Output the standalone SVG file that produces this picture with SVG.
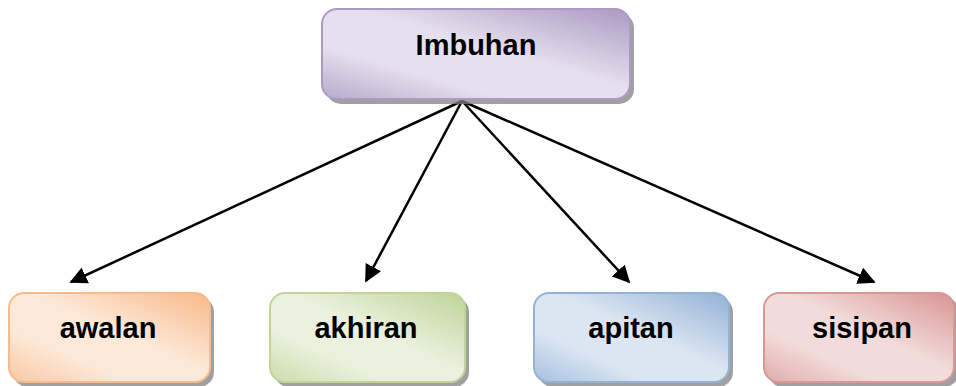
<svg xmlns="http://www.w3.org/2000/svg" width="956" height="386" viewBox="0 0 956 386">
<style>
.t{font-family:"Liberation Sans",Arial,sans-serif;font-weight:bold;font-size:29px;fill:#000;text-anchor:middle}
.sh{fill:#808080;opacity:0.75}
.c{stroke:#000;stroke-width:2.5;fill:none;marker-end:url(#ah)}
</style>
<defs>
<marker id="ah" viewBox="0 0 10 10" refX="9" refY="5" markerWidth="7" markerHeight="7" orient="auto" markerUnits="strokeWidth">
<path d="M0,0 L10,5 L0,10 z" fill="#000"/>
</marker>
<linearGradient id="gp" x1="1" y1="0" x2="0" y2="1">
<stop offset="0" stop-color="#ab99c3"/><stop offset="0.45" stop-color="#e6e0ee"/><stop offset="0.7" stop-color="#e6e0ee"/><stop offset="1" stop-color="#b8a9cc"/>
</linearGradient>
<linearGradient id="go" x1="1" y1="0" x2="0" y2="1">
<stop offset="0" stop-color="#f8b888"/><stop offset="0.45" stop-color="#fde9d9"/><stop offset="0.7" stop-color="#fde9d9"/><stop offset="1" stop-color="#f9c8a2"/>
</linearGradient>
<linearGradient id="gg" x1="1" y1="0" x2="0" y2="1">
<stop offset="0" stop-color="#bfd398"/><stop offset="0.45" stop-color="#ebf1de"/><stop offset="0.7" stop-color="#ebf1de"/><stop offset="1" stop-color="#cadcab"/>
</linearGradient>
<linearGradient id="gb" x1="1" y1="0" x2="0" y2="1">
<stop offset="0" stop-color="#93b1d6"/><stop offset="0.45" stop-color="#dce6f2"/><stop offset="0.7" stop-color="#dce6f2"/><stop offset="1" stop-color="#a6bfdf"/>
</linearGradient>
<linearGradient id="gr" x1="1" y1="0" x2="0" y2="1">
<stop offset="0" stop-color="#d89392"/><stop offset="0.45" stop-color="#f2dcdb"/><stop offset="0.7" stop-color="#f2dcdb"/><stop offset="1" stop-color="#e0abaa"/>
</linearGradient>
</defs>
<g id="connectors">
<line class="c" x1="462" y1="101" x2="71" y2="282"/>
<line class="c" x1="462" y1="101" x2="366" y2="281"/>
<line class="c" x1="462" y1="101" x2="629" y2="282"/>
<line class="c" x1="462" y1="101" x2="874" y2="282"/>
</g>
<g id="imbuhan">
<rect class="sh" x="326" y="13" width="308" height="91" rx="15"/>
<rect x="322" y="9" width="308" height="90" rx="15" fill="url(#gp)" stroke="#ab9bc4" stroke-width="2"/>
<text class="t" x="476" y="55">Imbuhan</text>
</g>
<g id="awalan">
<rect class="sh" x="13" y="297" width="201" height="90" rx="15"/>
<rect x="9" y="293" width="201" height="89" rx="15" fill="url(#go)" stroke="#f7bc8e" stroke-width="2"/>
<text class="t" x="108" y="338">awalan</text>
</g>
<g id="akhiran">
<rect class="sh" x="274" y="297" width="195" height="90" rx="15"/>
<rect x="270" y="293" width="195" height="89" rx="15" fill="url(#gg)" stroke="#c0d59a" stroke-width="2"/>
<text class="t" x="366" y="338">akhiran</text>
</g>
<g id="apitan">
<rect class="sh" x="538" y="297" width="195" height="90" rx="15"/>
<rect x="534" y="293" width="195" height="89" rx="15" fill="url(#gb)" stroke="#94b2d6" stroke-width="2"/>
<text class="t" x="631" y="338">apitan</text>
</g>
<g id="sisipan">
<rect class="sh" x="768" y="297" width="191" height="90" rx="15"/>
<rect x="764" y="293" width="190" height="89" rx="15" fill="url(#gr)" stroke="#d99796" stroke-width="2"/>
<text class="t" x="862" y="338">sisipan</text>
</g>
</svg>
